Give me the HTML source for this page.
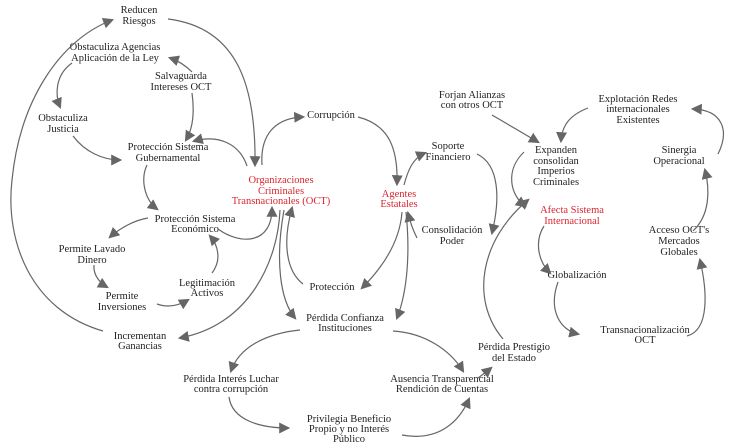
<!DOCTYPE html>
<html><head><meta charset="utf-8"><style>
html,body{margin:0;padding:0;background:#fff;}
svg{display:block;}
.t text{font-family:'Liberation Serif','DejaVu Serif',serif;font-size:10.5px;fill:#222;text-anchor:middle;}
.t text.r{fill:#d9262e;}
.c path{fill:none;stroke:#666;stroke-width:1.2;marker-end:url(#a);}
</style></head><body>
<svg width="737" height="448" viewBox="0 0 737 448" xmlns="http://www.w3.org/2000/svg">
<defs><marker id="a" viewBox="0 0 10 10" refX="8" refY="5" markerWidth="11" markerHeight="11" markerUnits="userSpaceOnUse" orient="auto"><polygon points="0,0 10,5 0,10" fill="#666"/></marker></defs>
<g class="t" font-family="Liberation Serif, serif">
<text x="139" y="13">Reducen</text><text x="139" y="24">Riesgos</text>
<text x="115" y="50">Obstaculiza Agencias</text><text x="115" y="61">Aplicación de la Ley</text>
<text x="181" y="79">Salvaguarda</text><text x="181" y="90">Intereses OCT</text>
<text x="63" y="121">Obstaculiza</text><text x="63" y="132">Justicia</text>
<text x="168" y="150">Protección Sistema</text><text x="168" y="161">Gubernamental</text>
<text class="r" x="281" y="183">Organizaciones</text><text class="r" x="281" y="194">Criminales</text><text class="r" x="281" y="204">Transnacionales (OCT)</text>
<text x="331" y="118">Corrupción</text>
<text x="195" y="222">Protección Sistema</text><text x="195" y="232">Económico</text>
<text x="92" y="252">Permite Lavado</text><text x="92" y="263">Dinero</text>
<text x="122" y="299">Permite</text><text x="122" y="310">Inversiones</text>
<text x="207" y="286">Legitimación</text><text x="207" y="296">Activos</text>
<text x="140" y="339">Incrementan</text><text x="140" y="349">Ganancias</text>
<text x="332" y="290">Protección</text>
<text x="345" y="321">Pérdida Confianza</text><text x="345" y="331">Instituciones</text>
<text x="231" y="382">Pérdida Interés Luchar</text><text x="231" y="392">contra corrupción</text>
<text x="349" y="422">Privilegia Beneficio</text><text x="349" y="432">Propio y no Interés</text><text x="349" y="442">Público</text>
<text x="442" y="382">Ausencia Transparencial</text><text x="442" y="392">Rendición de Cuentas</text>
<text class="r" x="399" y="197">Agentes</text><text class="r" x="399" y="207">Estatales</text>
<text x="448" y="149">Soporte</text><text x="448" y="160">Financiero</text>
<text x="452" y="233">Consolidación</text><text x="452" y="244">Poder</text>
<text x="472" y="98">Forjan Alianzas</text><text x="472" y="108">con otros OCT</text>
<text x="638" y="102">Explotación Redes</text><text x="638" y="112">internacionales</text><text x="638" y="123">Existentes</text>
<text x="556" y="153">Expanden</text><text x="556" y="164">consolidan</text><text x="556" y="174">Imperios</text><text x="556" y="185">Criminales</text>
<text x="679" y="153">Sinergia</text><text x="679" y="164">Operacional</text>
<text class="r" x="572" y="213">Afecta Sistema</text><text class="r" x="572" y="224">Internacional</text>
<text x="679" y="233">Acceso OCT's</text><text x="679" y="244">Mercados</text><text x="679" y="255">Globales</text>
<text x="577" y="278">Globalización</text>
<text x="645" y="333">Transnacionalización</text><text x="645" y="343">OCT</text>
<text x="514" y="350">Pérdida Prestigio</text><text x="514" y="361">del Estado</text>
</g>
<g class="c">
<path d="M103,331 C30,310 5,240 12,180 C20,100 60,40 112,20"/>
<path d="M168,19 C240,28 256,90 255,165"/>
<path d="M192,72 Q182,62 170,58"/>
<path d="M192,93 C195,115 192,130 186,140"/>
<path d="M72,63 C55,75 55,95 60,107"/>
<path d="M73,136 C85,152 103,160 120,160"/>
<path d="M247,166 C240,145 220,134 194,141"/>
<path d="M262,165 C260,135 275,118 303,117"/>
<path d="M358,117 C390,125 398,150 397,184"/>
<path d="M147,165 C140,180 145,200 157,209"/>
<path d="M148,218 C135,220 120,228 110,237"/>
<path d="M94,265 C93,275 100,283 107,287"/>
<path d="M157,304 C168,308 178,306 188,300"/>
<path d="M212,273 C222,260 218,245 210,236"/>
<path d="M218,229 C240,245 272,245 272,208"/>
<path d="M280,210 C278,260 250,325 180,338"/>
<path d="M284,210 C275,260 280,300 295,318"/>
<path d="M303,284 C285,270 283,240 292,208"/>
<path d="M402,212 C400,240 385,265 362,288"/>
<path d="M406,212 C410,250 408,290 397,318"/>
<path d="M404,185 C408,170 413,158 425,153"/>
<path d="M477,154 C500,165 500,200 492,233"/>
<path d="M417,238 C413,230 410,222 408,213"/>
<path d="M300,330 C270,333 240,345 231,371"/>
<path d="M393,331 C425,333 450,350 463,371"/>
<path d="M229,397 C232,420 260,428 288,428"/>
<path d="M402,435 C440,442 460,420 469,399"/>
<path d="M478,378 Q485,373 491,368"/>
<path d="M503,339 C470,300 480,240 528,200"/>
<path d="M492,115 L538,142"/>
<path d="M588,108 C570,115 562,125 561,141"/>
<path d="M524,152 C505,170 510,195 525,206"/>
<path d="M544,226 C535,240 537,260 550,273"/>
<path d="M558,282 C548,310 560,330 578,334"/>
<path d="M687,336 C710,330 707,290 700,260"/>
<path d="M693,231 C710,215 710,190 705,170"/>
<path d="M718,154 C730,130 722,110 693,109"/>
</g>
</svg>
</body></html>
